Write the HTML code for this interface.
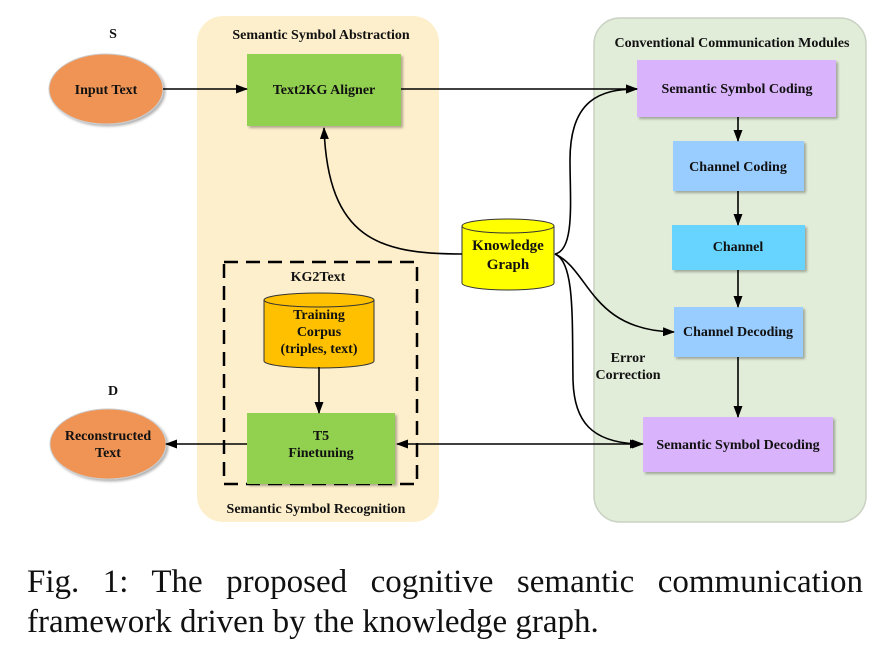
<!DOCTYPE html>
<html><head><meta charset="utf-8"><style>
body{margin:0;background:#fff;width:890px;height:647px;overflow:hidden}
svg text{font-family:"Liberation Serif",serif;font-weight:bold;fill:#111}
.cap{position:absolute;left:27px;width:836px;font-family:"Liberation Serif",serif;font-size:33px;line-height:40px;color:#111;white-space:nowrap}
.l1{top:562px;text-align:justify;text-align-last:justify;white-space:normal}
.l2{top:602px}
</style></head><body>
<svg width="890" height="647" style="position:absolute;left:0;top:0">
<defs>
<marker id="a" markerWidth="12" markerHeight="9" refX="11" refY="4.5" orient="auto" markerUnits="userSpaceOnUse"><path d="M0,0 L12,4.5 L0,9 Z" fill="#000"/></marker>
<marker id="b" markerWidth="12" markerHeight="9" refX="1" refY="4.5" orient="auto" markerUnits="userSpaceOnUse"><path d="M12,0 L0,4.5 L12,9 Z" fill="#000"/></marker>
<filter id="s" x="-10%" y="-10%" width="130%" height="130%"><feDropShadow dx="2" dy="2" stdDeviation="1.2" flood-color="#000" flood-opacity="0.3"/></filter>
</defs>
<rect x="197" y="16" width="242" height="506" rx="26" fill="#fdefcc"/>
<rect x="594" y="18" width="272" height="504" rx="26" fill="#e2edd9" stroke="#c9d1c2" stroke-width="1.5"/>
<text x="321" y="39" font-size="14" text-anchor="middle">Semantic Symbol Abstraction</text>
<text x="732" y="47" font-size="14" text-anchor="middle">Conventional Communication Modules</text>
<text x="316" y="513" font-size="14" text-anchor="middle">Semantic Symbol Recognition</text>
<text x="113" y="38" font-size="14" text-anchor="middle">S</text>
<text x="113" y="395" font-size="14" text-anchor="middle">D</text>
<ellipse cx="106" cy="89" rx="57" ry="35" fill="#ef9455" stroke="#ccc" filter="url(#s)"/>
<text x="106" y="94" font-size="14" text-anchor="middle">Input Text</text>
<ellipse cx="108" cy="444" rx="58" ry="35" fill="#ef9455" stroke="#ccc" filter="url(#s)"/>
<text x="108" y="440" font-size="14" text-anchor="middle">Reconstructed</text>
<text x="108" y="457" font-size="14" text-anchor="middle">Text</text>
<rect x="247" y="54" width="154" height="72" fill="#92d050" filter="url(#s)"/>
<text x="324" y="94" font-size="14" text-anchor="middle">Text2KG Aligner</text>
<rect x="224" y="262" width="193" height="222" fill="none" stroke="#000" stroke-width="2.5" stroke-dasharray="14,8"/>
<text x="318" y="281" font-size="14" text-anchor="middle">KG2Text</text>
<path d="M264,300 L264,361 A55,7 0 0 0 374,361 L374,300" fill="#ffc000" stroke="#333"/>
<ellipse cx="319" cy="300" rx="55" ry="7" fill="#ffc000" stroke="#333"/>
<text x="319" y="319" font-size="14" text-anchor="middle">Training</text>
<text x="319" y="336" font-size="14" text-anchor="middle">Corpus</text>
<text x="319" y="353" font-size="14" text-anchor="middle">(triples, text)</text>
<rect x="247" y="413" width="148" height="71" fill="#92d050" filter="url(#s)"/>
<text x="321" y="440" font-size="14" text-anchor="middle">T5</text>
<text x="321" y="457" font-size="14" text-anchor="middle">Finetuning</text>
<path d="M462,226 L462,283 A46,7 0 0 0 554,283 L554,226" fill="#ffff00" stroke="#333"/>
<ellipse cx="508" cy="226" rx="46" ry="7" fill="#ffff00" stroke="#333"/>
<text x="508" y="250" font-size="15" text-anchor="middle">Knowledge</text>
<text x="508" y="269" font-size="15" text-anchor="middle">Graph</text>
<rect x="637" y="60" width="199" height="57" fill="#d9b3fc" filter="url(#s)"/>
<text x="737" y="93" font-size="14" text-anchor="middle">Semantic Symbol Coding</text>
<rect x="673" y="141" width="131" height="50" fill="#99ccff" filter="url(#s)"/>
<text x="738" y="171" font-size="14" text-anchor="middle">Channel Coding</text>
<rect x="672" y="225" width="133" height="45" fill="#66d4ff" filter="url(#s)"/>
<text x="738" y="251" font-size="14" text-anchor="middle">Channel</text>
<rect x="674" y="307" width="129" height="50" fill="#99ccff" filter="url(#s)"/>
<text x="738" y="336" font-size="14" text-anchor="middle">Channel Decoding</text>
<rect x="643" y="417" width="190" height="55" fill="#d9b3fc" filter="url(#s)"/>
<text x="738" y="449" font-size="14" text-anchor="middle">Semantic Symbol Decoding</text>
<text x="628" y="362" font-size="14" text-anchor="middle">Error</text>
<text x="628" y="379" font-size="14" text-anchor="middle">Correction</text>
<g stroke="#000" stroke-width="1.6" fill="none">
<path d="M163,89 L247,89" marker-end="url(#a)"/>
<path d="M401,89 L637,89" marker-end="url(#a)"/>
<path d="M738,117 L738,141" marker-end="url(#a)"/>
<path d="M738,191 L738,225" marker-end="url(#a)"/>
<path d="M738,270 L738,307" marker-end="url(#a)"/>
<path d="M738,357 L738,417" marker-end="url(#a)"/>
<path d="M319,367 L319,413" marker-end="url(#a)"/>
<path d="M247,444 L166,444" marker-end="url(#a)"/>
<path d="M397,444 L641,444" marker-start="url(#b)" marker-end="url(#a)"/>
<path d="M462,254 C380,254 328,240 324,128" marker-end="url(#a)"/>
<path d="M555,254 C575,250 570,200 570,160 C570,100 600,89 637,89" marker-end="url(#a)"/>
<path d="M555,254 C590,270 590,330 674,332" marker-end="url(#a)"/>
<path d="M555,254 C575,262 572,320 573,380 C574,420 590,444 643,444" marker-end="url(#a)"/>
</g>
</svg>
<div class="cap l1">Fig. 1: The proposed cognitive semantic communication</div>
<div class="cap l2">framework driven by the knowledge graph.</div>
</body></html>
